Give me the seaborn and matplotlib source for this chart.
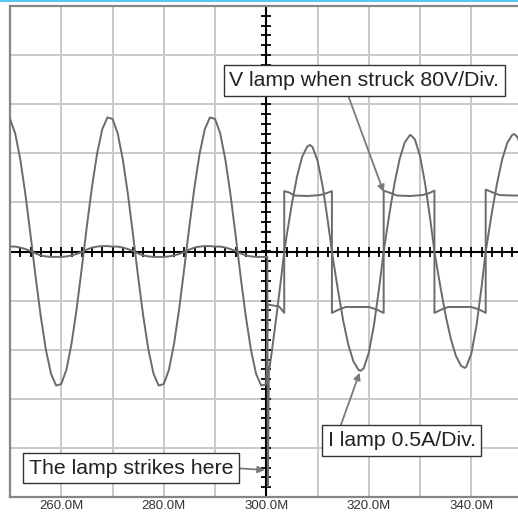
import matplotlib.pyplot as plt
import numpy as np
import pandas as pd
import seaborn as sns
from matplotlib.lines import Line2D

# time in "M" units, traces in scope divisions (V: 80V/Div, I: 0.5A/Div)
t_before = list(range(250, 301))
v_before = [2.70, 2.41, 1.88, 1.17, 0.34, -0.52, -1.32, -2.00, -2.49, -2.73,
            -2.70, -2.41, -1.88, -1.17, -0.34, 0.52, 1.32, 2.00, 2.49, 2.73,
            2.70, 2.41, 1.88, 1.17, 0.34, -0.52, -1.32, -2.00, -2.49, -2.73,
            -2.70, -2.41, -1.88, -1.17, -0.34, 0.52, 1.32, 2.00, 2.49, 2.73,
            2.70, 2.41, 1.88, 1.17, 0.34, -0.52, -1.32, -2.00, -2.49, -2.73,
            -2.70]
i_before = [0.10, 0.10, 0.08, 0.05, 0.01, -0.04, -0.08, -0.10, -0.11, -0.11,
            -0.11, -0.10, -0.08, -0.05, -0.01, 0.04, 0.08, 0.10, 0.11, 0.11,
            0.10, 0.10, 0.08, 0.05, 0.01, -0.04, -0.08, -0.10, -0.11, -0.11,
            -0.11, -0.10, -0.08, -0.05, -0.01, 0.04, 0.08, 0.10, 0.11, 0.11,
            0.10, 0.10, 0.08, 0.05, 0.01, -0.04, -0.08, -0.10, -0.11, -0.11,
            -0.11]

# after the lamp strikes
t_v_after = [300.25, 302.5, 303.5, 303.5, 304.5, 305.5, 308.0, 310.5, 311.8, 312.8,
             312.8, 314.0, 315.5, 320.0, 321.5, 322.9,
             322.9, 324.0, 325.5, 328.0, 330.5, 331.8, 332.8,
             332.8, 334.0, 335.5, 340.0, 341.5, 342.8,
             342.8, 344.0, 345.5, 348.0, 350.0]
v_after = [-1.08, -1.12, -1.25, 1.23, 1.20, 1.14, 1.13, 1.15, 1.19, 1.23,
           -1.25, -1.19, -1.13, -1.13, -1.18, -1.25,
           1.24, 1.20, 1.14, 1.13, 1.15, 1.19, 1.24,
           -1.25, -1.19, -1.13, -1.13, -1.18, -1.25,
           1.26, 1.21, 1.15, 1.14, 1.14]

t_i_after = [300.2, 300.3, 300.5, 301, 302, 303, 303.5,
             304, 305, 306, 307, 308, 308.5, 309, 310, 311, 312, 312.8,
             313, 314, 315, 316, 317, 318, 318.4, 319, 320, 321, 322, 322.9,
             323, 324, 325, 326, 327, 328, 328.2, 329, 330, 331, 332, 332.8,
             333, 334, 335, 336, 337, 338, 338.7, 339, 340, 341, 342, 342.8,
             343, 344, 345, 346, 347, 348, 348.4, 349, 350]
i_after = [-0.11, -4.78, -2.45, -2.10, -1.30, -0.45, 0.00,
           0.34, 0.98, 1.53, 1.93, 2.14, 2.17, 2.13, 1.85, 1.33, 0.62, 0.00,
           -0.14, -0.80, -1.41, -1.90, -2.24, -2.41, -2.43, -2.38, -2.06, -1.50, -0.75, 0.00,
           0.07, 0.76, 1.38, 1.88, 2.22, 2.37, 2.37, 2.28, 1.94, 1.37, 0.64, 0.00,
           -0.13, -0.74, -1.31, -1.78, -2.13, -2.33, -2.37, -2.35, -2.08, -1.51, -0.72, 0.00,
           0.13, 0.79, 1.38, 1.87, 2.21, 2.38, 2.39, 2.33, 2.01]

x_ticks = [250, 260, 270, 280, 290, 300, 310, 320, 330, 340, 350]
x_labels = ["", "260.0M", "", "280.0M", "", "300.0M", "", "320.0M", "", "340.0M", ""]

df_v = pd.DataFrame({"t": t_before + t_v_after, "div": v_before + v_after})
df_i = pd.DataFrame({"t": t_before + t_i_after, "div": i_before + i_after})

sns.set_style("white")
plt.rcParams["font.family"] = ["Liberation Sans", "DejaVu Sans"]

fig = plt.figure(figsize=(5.18, 5.18), dpi=100)
ax = fig.add_axes([10 / 518, 21 / 518, 512.6 / 518, 491 / 518])

ax.set_xlim(250, 350)
ax.set_ylim(-5, 5)
ax.set_xticks(x_ticks)
ax.set_xticklabels(x_labels)
ax.set_yticks(range(-5, 6))
ax.set_yticklabels([])
ax.grid(True, color="#c8c8c8", lw=1.4)
ax.set_axisbelow(True)
ax.tick_params(length=0, labelsize=9.5, labelcolor="#333333", pad=2.5)
for s in ["left", "top", "bottom"]:
    ax.spines[s].set_color("#858585")
    ax.spines[s].set_linewidth(1.6)
ax.spines["right"].set_visible(False)

# scope centre cross with small ticks
ax.axhline(0, color="black", lw=1.5, zorder=2)
ax.axvline(300, color="black", lw=1.5, zorder=2)
hx = np.arange(250, 351, 2)
ax.plot(hx, np.zeros_like(hx), ls="none", marker="|", ms=7, mew=1.3, color="black", zorder=2)
vy = np.arange(-5, 5.01, 0.2)
ax.plot(np.full_like(vy, 300), vy, ls="none", marker="_", ms=7, mew=1.3, color="black", zorder=2)

sns.lineplot(data=df_v, x="t", y="div", estimator=None, sort=False,
             color="#6b6b6b", lw=1.4, ax=ax, zorder=3)
sns.lineplot(data=df_i, x="t", y="div", estimator=None, sort=False,
             color="#6b6b6b", lw=1.4, ax=ax, zorder=3)
ax.set_xlabel("")
ax.set_ylabel("")

box = dict(boxstyle="square,pad=0.27", fc="white", ec="#333333", lw=1.0)
ax.annotate("V lamp when struck 80V/Div.", xy=(322.9, 1.21), xytext=(319.1, 3.48),
            ha="center", va="center", fontsize=15.3, color="#222222", bbox=box, zorder=5,
            arrowprops=dict(arrowstyle="-|>", color="#7a7a7a", lw=1.3, mutation_scale=10,
                            relpos=(0.433, 0), shrinkA=0, shrinkB=0))
ax.annotate("I lamp 0.5A/Div.", xy=(318.2, -2.47), xytext=(326.4, -3.85),
            ha="center", va="center", fontsize=15.3, color="#222222", bbox=box, zorder=5,
            arrowprops=dict(arrowstyle="-|>", color="#7a7a7a", lw=1.3, mutation_scale=10,
                            relpos=(0.075, 1), shrinkA=0, shrinkB=0))
ax.annotate("The lamp strikes here", xy=(299.7, -4.45), xytext=(273.7, -4.41),
            ha="center", va="center", fontsize=15.3, color="#222222", bbox=box, zorder=5,
            arrowprops=dict(arrowstyle="-|>", color="#7a7a7a", lw=1.3, mutation_scale=10,
                            relpos=(1, 0.5), shrinkA=0, shrinkB=0))

fig.add_artist(Line2D([0, 1], [0.999, 0.999], transform=fig.transFigure,
                      color="#5bc6f0", lw=1.5))

fig.savefig("out.png", dpi=100)
